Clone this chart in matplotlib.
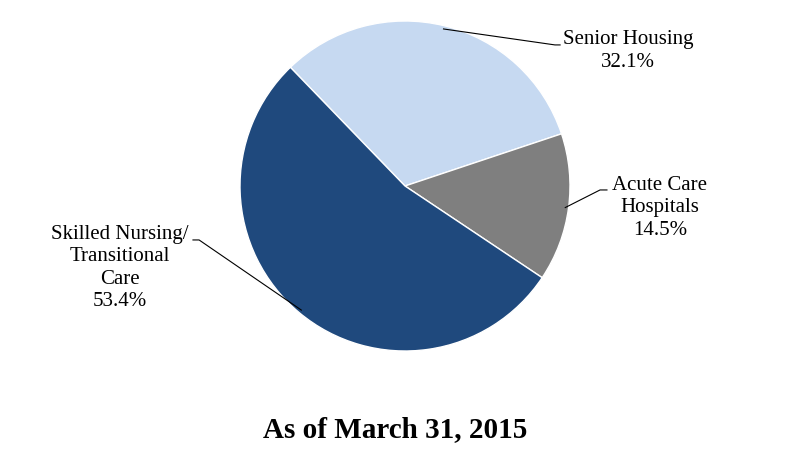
import numpy as np
import matplotlib.pyplot as plt

# Portfolio mix
labels = ['Senior Housing\n32.1%', 'Acute Care\nHospitals\n14.5%', 'Skilled Nursing/\nTransitional\nCare\n53.4%']
shares = [32.1, 14.5, 53.4]
colors = ['#C6D9F1', '#7F7F7F', '#1F497D']

# label text position and leader elbow (data units, pie radius = 1)
text_pos = [(1.352, 0.818), (1.545, -0.133), (-1.727, -0.497)]
elbows = [((0.909, 0.855), (0.94, 0.855)),
          ((1.182, -0.024), (1.224, -0.024)),
          ((-1.248, -0.327), (-1.285, -0.327))]

plt.rcParams['font.family'] = ['Liberation Serif', 'DejaVu Serif']

fig = plt.figure(figsize=(7.9, 4.67), dpi=100)
ax = fig.add_axes([240 / 790, 116 / 467, 330 / 790, 330 / 467])
wedges, _ = ax.pie(shares, colors=colors, startangle=134, counterclock=False,
                   wedgeprops=dict(edgecolor='white', linewidth=1))
ax.set_xlim(-1, 1)
ax.set_ylim(-1, 1)
ax.set_aspect('equal')

for w, lab, tp, (e1, e2) in zip(wedges, labels, text_pos, elbows):
    mid = np.deg2rad((w.theta1 + w.theta2) / 2)
    ax_x, ax_y = 0.98 * np.cos(mid), 0.98 * np.sin(mid)
    ax.plot([ax_x, e1[0], e2[0]], [ax_y, e1[1], e2[1]], color='black', lw=0.8,
            clip_on=False)
    ax.text(tp[0], tp[1], lab, ha='center', va='center', fontsize=15,
            linespacing=1.25)

fig.text(0.5, 1 - 430 / 467, 'As of March 31, 2015', ha='center', va='center',
         fontsize=21, fontweight='bold')

fig.savefig('out.png', dpi=100)
